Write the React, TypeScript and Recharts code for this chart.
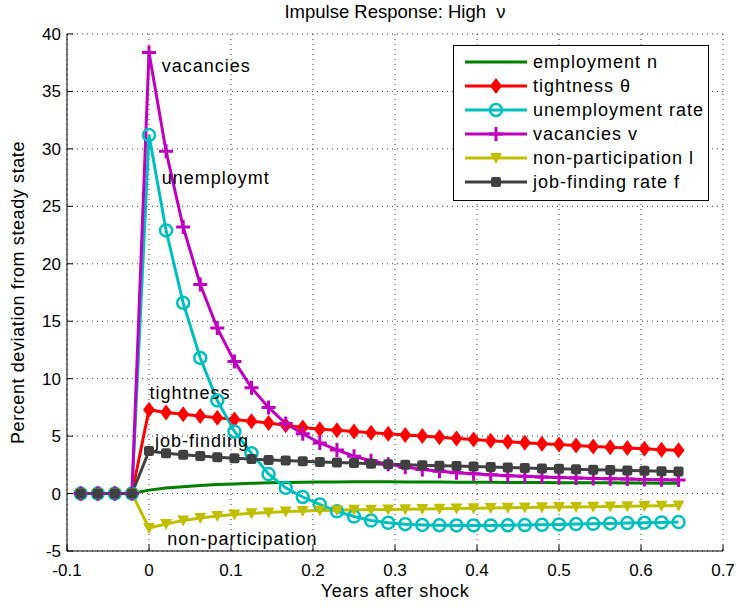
import React from "react";
import { CartesianGrid, Legend, Line, LineChart, ReferenceDot, XAxis, YAxis } from "recharts";

// time in years after the shock (one point per week, 48 per year)
const yearsAfterShock = [
  -0.0833, -0.0625, -0.0417, -0.0208, 0, 0.0208, 0.0417, 0.0625, 0.0833, 0.1042, 0.125, 0.1458,
  0.1667, 0.1875, 0.2083, 0.2292, 0.25, 0.2708, 0.2917, 0.3125, 0.3333, 0.3542, 0.375, 0.3958,
  0.4167, 0.4375, 0.4583, 0.4792, 0.5, 0.5208, 0.5417, 0.5625, 0.5833, 0.6042, 0.625, 0.6458,
];

const employment = [
  0, 0, 0, 0, 0.3, 0.48, 0.6, 0.7, 0.78, 0.84, 0.89, 0.93, 0.96, 0.99, 1.0, 1.01, 1.02, 1.02,
  1.02, 1.01, 1.01, 1.0, 0.99, 0.99, 0.98, 0.97, 0.96, 0.96, 0.95, 0.94, 0.93, 0.93, 0.92, 0.91, 0.9, 0.9,
];
const tightness = [
  0, 0, 0, 0, 7.3, 7.05, 6.9, 6.75, 6.6, 6.45, 6.3, 6.15, 5.95, 5.75, 5.6, 5.5, 5.4, 5.3, 5.2,
  5.1, 5.0, 4.9, 4.8, 4.7, 4.6, 4.5, 4.42, 4.34, 4.26, 4.18, 4.1, 4.03, 3.96, 3.89, 3.82, 3.76,
];
const unemployment = [
  0, 0, 0, 0, 31.2, 22.9, 16.6, 11.8, 8.1, 5.4, 3.5, 1.7, 0.5, -0.3, -0.95, -1.55, -2.0, -2.35,
  -2.55, -2.67, -2.73, -2.76, -2.78, -2.78, -2.77, -2.76, -2.74, -2.72, -2.69, -2.66, -2.63, -2.6,
  -2.57, -2.54, -2.51, -2.48,
];
const vacancies = [
  0, 0, 0, 0, 38.4, 29.8, 23.2, 18.2, 14.4, 11.5, 9.2, 7.5, 6.1, 5.2, 4.4, 3.8, 3.25, 2.85, 2.55,
  2.3, 2.1, 1.95, 1.82, 1.72, 1.63, 1.56, 1.5, 1.45, 1.4, 1.36, 1.32, 1.29, 1.26, 1.23, 1.2, 1.18,
];
const nonParticipation = [
  0, 0, 0, 0, -3.0, -2.65, -2.35, -2.12, -1.95, -1.82, -1.72, -1.64, -1.57, -1.52, -1.48, -1.45,
  -1.42, -1.4, -1.38, -1.36, -1.34, -1.32, -1.3, -1.28, -1.26, -1.24, -1.22, -1.2, -1.18, -1.16,
  -1.14, -1.12, -1.1, -1.08, -1.06, -1.04,
];
const jobFinding = [
  0, 0, 0, 0, 3.7, 3.5, 3.38, 3.27, 3.17, 3.08, 3.0, 2.93, 2.87, 2.81, 2.75, 2.7, 2.65, 2.6, 2.55,
  2.51, 2.47, 2.43, 2.39, 2.35, 2.31, 2.27, 2.23, 2.19, 2.15, 2.12, 2.08, 2.05, 2.01, 1.98, 1.95, 1.92,
];

const xTicks = [-0.1, 0, 0.1, 0.2, 0.3, 0.4, 0.5, 0.6, 0.7];
const yTicks = [-5, 0, 5, 10, 15, 20, 25, 30, 35, 40];

const seriesKeys = ["employment", "tightness", "unemployment", "vacancies", "nonParticipation", "jobFinding"];
const seriesNames = [
  "employment n",
  "tightness \u03b8",
  "unemployment rate",
  "vacancies v",
  "non-participation l",
  "job-finding rate f",
];
const seriesColors = ["#007f00", "#ff0000", "#00bfbf", "#bf00bf", "#bfbf00", "#404040"];
const seriesMarkers = ["none", "diamond", "circle", "plus", "triangle", "square"];

const annotationText = ["vacancies", "unemploymt", "tightness", "job-finding", "non-participation"];
const annotationX = [0.0155, 0.0155, 0.0005, 0.0073, 0.0224];
const annotationY = [36.66, 26.94, 8.22, 4.05, -4.48];

const FONT = "'Liberation Sans', Arial, Helvetica, sans-serif";

const data = yearsAfterShock.map((t, i) => ({
  t,
  employment: employment[i],
  tightness: tightness[i],
  unemployment: unemployment[i],
  vacancies: vacancies[i],
  nonParticipation: nonParticipation[i],
  jobFinding: jobFinding[i],
}));

type MarkerProps = { kind: string; cx: number; cy: number; color: string };

const Marker = ({ kind, cx, cy, color }: MarkerProps) => {
  if (cx == null || cy == null) return null;
  switch (kind) {
    case "diamond":
      return <polygon points={`${cx},${cy - 8} ${cx + 6},${cy} ${cx},${cy + 8} ${cx - 6},${cy}`} fill={color} />;
    case "circle":
      return <circle cx={cx} cy={cy} r={6} fill="none" stroke={color} strokeWidth={2.5} />;
    case "plus":
      return (
        <path d={`M${cx - 7},${cy}H${cx + 7}M${cx},${cy - 7}V${cy + 7}`} stroke={color} strokeWidth={3} fill="none" />
      );
    case "triangle":
      return <polygon points={`${cx - 6},${cy - 5} ${cx + 6},${cy - 5} ${cx},${cy + 6}`} fill={color} />;
    case "square":
      return <rect x={cx - 5} y={cy - 5} width={10} height={10} rx={2} fill={color} />;
    default:
      return null;
  }
};

const LegendBox = () => (
  <div
    style={{
      border: "1px solid #000",
      background: "#fff",
      boxSizing: "border-box",
      width: 256,
      height: 156,
      padding: "4px 0 0 11px",
      fontFamily: FONT,
      fontSize: 18,
      letterSpacing: 1,
      color: "#000",
    }}
  >
    {seriesKeys.map((k, i) => (
      <div key={k} style={{ display: "flex", alignItems: "center", height: 24 }}>
        <svg width={62} height={20} style={{ marginRight: 6, flex: "none" }}>
          <line x1={0} y1={10} x2={62} y2={10} stroke={seriesColors[i]} strokeWidth={3} />
          <Marker kind={seriesMarkers[i]} cx={31} cy={10} color={seriesColors[i]} />
        </svg>
        <span style={{ whiteSpace: "nowrap" }}>{seriesNames[i]}</span>
      </div>
    ))}
  </div>
);

export default function App() {
  const tickStyle = { fontSize: 17, fill: "#000", fontFamily: FONT };
  const axisLabelStyle = { fontSize: 18, fill: "#000", fontFamily: FONT, letterSpacing: 0.6 };
  return (
    <div style={{ position: "absolute", left: 0, top: 0, width: 739, height: 610, background: "#fff" }}>
      <div
        style={{
          position: "absolute",
          left: 245,
          top: 1,
          width: 300,
          textAlign: "center",
          fontFamily: FONT,
          fontSize: 18.5,
          lineHeight: "21px",
          whiteSpace: "nowrap",
          color: "#000",
        }}
      >
        Impulse Response: High &nbsp;&nu;
      </div>
      <LineChart width={739} height={610} data={data} margin={{ top: 34, right: 16, bottom: 0, left: 0 }}>
        <CartesianGrid stroke="#333" strokeDasharray="1 4" />
        <XAxis
          dataKey="t"
          type="number"
          domain={[-0.1, 0.7]}
          ticks={xTicks}
          interval={0}
          height={59}
          tickSize={-6}
          tickMargin={19}
          tick={tickStyle}
          stroke="#000"
          label={{
            value: "Years after shock",
            position: "insideBottom",
            offset: 13,
            style: axisLabelStyle,
          }}
        />
        <XAxis
          xAxisId="top"
          orientation="top"
          type="number"
          domain={[-0.1, 0.7]}
          ticks={xTicks}
          interval={0}
          height={0}
          tickSize={-6}
          tick={false}
          stroke="#000"
        />
        <YAxis
          type="number"
          domain={[-5, 40]}
          ticks={yTicks}
          interval={0}
          width={67}
          tickSize={-6}
          tickMargin={12}
          tick={tickStyle}
          stroke="#000"
          label={{
            value: "Percent deviation from steady state",
            angle: -90,
            position: "insideLeft",
            offset: 18,
            style: { ...axisLabelStyle, textAnchor: "middle" },
          }}
        />
        <YAxis
          yAxisId="right"
          orientation="right"
          type="number"
          domain={[-5, 40]}
          ticks={yTicks}
          interval={0}
          width={0}
          tickSize={-6}
          tick={false}
          stroke="#000"
        />
        {seriesKeys.map((k, i) => (
          <Line
            key={k}
            type="linear"
            dataKey={k}
            name={seriesNames[i]}
            stroke={seriesColors[i]}
            strokeWidth={3}
            isAnimationActive={false}
            dot={
              seriesMarkers[i] === "none"
                ? false
                : (p: any) => (
                    <Marker key={`${k}-${p.index}`} kind={seriesMarkers[i]} cx={p.cx} cy={p.cy} color={seriesColors[i]} />
                  )
            }
            activeDot={false}
          />
        ))}
        {annotationText.map((txt, i) => (
          <ReferenceDot
            key={txt}
            x={annotationX[i]}
            y={annotationY[i]}
            r={0}
            shape={(p: any) => (
              <text x={p.cx} y={p.cy} fontSize={18} letterSpacing={1} fontFamily={FONT} fill="#000">
                {txt}
              </text>
            )}
          />
        ))}
        <Legend
          layout="horizontal"
          verticalAlign="middle"
          align="center"
          wrapperStyle={{ left: 453, top: 45, width: 256, height: 156 }}
          content={() => <LegendBox />}
        />
      </LineChart>
    </div>
  );
}
